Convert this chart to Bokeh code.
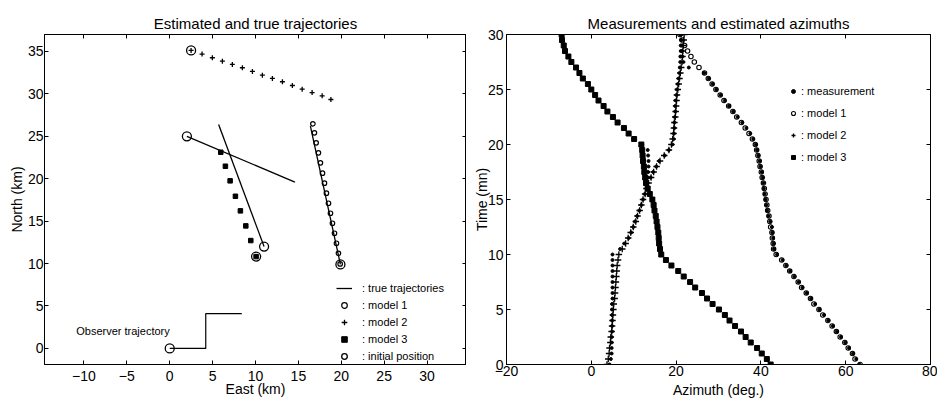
from bokeh.plotting import figure
from bokeh.layouts import row
from bokeh.models import Range1d, LinearAxis, FixedTicker, Legend, LegendItem, Label
from bokeh.embed import file_html
from bokeh.resources import INLINE

FONT = "Liberation Sans"

# ---------------- left panel data (km) ----------------
OBS_X = [0.0, 4.2, 4.2, 8.4]
OBS_Y = [0.0, 0.0, 4.1, 4.1]
OBS_LABEL = "Observer trajectory"
OBS_LABEL_X = -10.9
OBS_LABEL_Y = 2.0

TRUE_XS = [[19.9, 16.4], [11.0, 5.7], [2.0, 14.6]]
TRUE_YS = [[9.9, 26.2], [12.0, 26.4], [25.0, 19.6]]

M1_X = [19.87, 19.67, 19.44, 19.21, 18.97, 18.74, 18.51, 18.27, 18.04, 17.81, 17.57, 17.34, 17.07, 16.87, 16.69]
M1_Y = [9.96, 11.21, 12.39, 13.57, 14.75, 15.93, 17.11, 18.29, 19.47, 20.65, 21.87, 23.05, 24.23, 25.41, 26.47]

M2_X = [2.49, 3.77, 4.97, 6.14, 7.30, 8.47, 9.64, 10.80, 11.97, 13.14, 14.30, 15.44, 16.60, 17.77, 18.79]
M2_Y = [35.12, 34.69, 34.26, 33.86, 33.47, 33.08, 32.65, 32.21, 31.82, 31.43, 30.99, 30.55, 30.16, 29.77, 29.34]

M3_X = [10.07, 9.45, 8.87, 8.24, 7.66, 7.04, 6.49, 5.95]
M3_Y = [10.82, 12.71, 14.44, 16.21, 17.93, 19.75, 21.47, 23.12]

INIT_X = [0.0, 2.0, 11.0, 19.9, 2.49, 10.07]
INIT_Y = [0.0, 25.0, 12.0, 9.9, 35.12, 10.82]

LEFT_XTICKS = [-10, -5, 0, 5, 10, 15, 20, 25, 30]
LEFT_YTICKS = [0, 5, 10, 15, 20, 25, 30, 35]

# ---------------- right panel data (time in mn, azimuth in deg.) ----------------
TIME = [0.0, 0.5, 1.0, 1.5, 2.0, 2.5, 3.0, 3.5, 4.0, 4.5, 5.0, 5.5, 6.0, 6.5, 7.0, 7.5,
        8.0, 8.5, 9.0, 9.5, 10.0, 10.5, 11.0, 11.5, 12.0, 12.5, 13.0, 13.5, 14.0, 14.5,
        15.0, 15.5, 16.0, 16.5, 17.0, 17.5, 18.0, 18.5, 19.0, 19.5, 20.0, 20.5, 21.0,
        21.5, 22.0, 22.5, 23.0, 23.5, 24.0, 24.5, 25.0, 25.5, 26.0, 26.5, 27.0, 27.5,
        28.0, 28.5, 29.0, 29.5, 30.0]

MEAS_A = [63.2, 62.5, 61.7, 60.8, 59.9, 58.9, 57.9, 57.0, 55.9, 54.9, 53.8, 52.8, 51.8, 50.8,
          49.8, 48.9, 47.9, 46.9, 46.0, 45.1, 43.8, 43.1, 43.0, 42.9, 42.7, 42.6, 42.2, 41.8,
          41.5, 41.3, 41.1, 40.9, 40.7, 40.6, 40.4, 40.2, 39.9, 39.7, 39.4, 39.1, 38.8, 38.2,
          37.5, 36.6, 35.6, 34.5, 33.5, 32.5, 31.5, 30.5, 29.5, 28.6, 27.7, 26.6, 23.0, 21.7,
          21.5, 21.4, 21.3, 21.2, 21.0]
MEAS_B = [42.3, 41.5, 40.3, 39.0, 37.7, 36.5, 35.2, 34.0, 32.7, 31.4, 30.0, 28.7, 27.4, 26.0,
          24.6, 23.2, 21.9, 20.4, 19.0, 17.5, 16.6, 16.2, 16.1, 16.0, 15.8, 15.7, 15.5, 15.2,
          15.0, 14.8, 14.5, 13.6, 13.2, 13.0, 13.3, 13.4, 13.5, 13.5, 13.4, 13.3, 12.0, 10.2,
          8.9, 7.6, 6.3, 5.0, 3.9, 2.8, 1.8, 0.9, 0.1, -0.9, -1.9, -2.8, -3.7, -4.6, -5.5,
          -6.2, -6.6, -6.8, -7.0]
MEAS_C = [4.3, 4.6, 4.8, 4.8, 4.8, 4.8, 4.9, 4.9, 4.9, 4.9, 4.9, 4.9, 5.0, 5.0, 5.0, 5.0,
          5.0, 5.0, 5.0, 5.0, 5.0, 6.8, 7.8, 8.8, 9.4, 9.9, 10.3, 10.8, 11.3, 11.8, 12.2,
          12.6, 13.0, 13.3, 14.0, 14.6, 15.3, 16.0, 17.3, 18.3, 19.1, 19.4, 19.5, 19.6, 19.6,
          19.7, 19.8, 19.8, 19.9, 20.1, 20.2, 20.4, 20.6, 20.8, 20.9, 21.0, 21.0, 21.1, 21.1,
          21.2, 21.2]
MODEL1 = [63.4, 62.2, 61.6, 60.6, 59.8, 58.7, 57.8, 56.8, 55.8, 54.6, 53.7, 52.5, 51.7, 50.7,
          49.6, 48.8, 47.8, 46.8, 45.9, 44.9, 43.6, 43.0, 42.9, 42.7, 42.6, 42.3, 42.1, 41.9,
          41.6, 41.4, 41.2, 41.0, 40.8, 40.6, 40.3, 40.1, 39.8, 39.6, 39.3, 39.0, 38.7, 38.0,
          37.2, 36.3, 35.4, 34.3, 33.4, 32.4, 31.3, 30.4, 29.4, 28.5, 27.6, 26.7, 25.4, 24.3,
          23.5, 22.7, 22.0, 21.4, 20.9]
MODEL2 = [3.7, 4.0, 4.2, 4.3, 4.5, 4.6, 4.8, 4.9, 5.0, 5.1, 5.2, 5.3, 5.5, 5.6, 5.7, 5.8,
          5.9, 6.0, 6.1, 6.3, 6.5, 7.3, 8.1, 8.7, 9.3, 9.9, 10.5, 10.9, 11.4, 11.8, 12.2,
          12.7, 13.0, 13.5, 14.1, 14.7, 15.4, 16.2, 17.2, 18.3, 18.9, 19.2, 19.4, 19.5, 19.6,
          19.8, 19.9, 20.0, 20.1, 20.2, 20.4, 20.6, 20.8, 21.0, 21.2, 21.4, 21.5, 21.6, 21.7,
          21.8, 21.9]
MODEL3 = [42.3, 41.4, 40.2, 39.1, 37.6, 36.4, 35.3, 33.9, 32.6, 31.5, 30.1, 28.6, 27.3, 26.1,
          24.5, 23.3, 21.8, 20.5, 18.9, 17.6, 16.5, 16.2, 16.0, 15.9, 15.8, 15.6, 15.4, 15.2,
          14.9, 14.7, 14.4, 13.8, 13.3, 12.9, 12.7, 12.5, 12.4, 12.2, 12.1, 12.0, 11.8, 10.1,
          8.8, 7.7, 6.2, 5.1, 3.8, 2.9, 1.7, 0.9, 0.0, -0.8, -2.0, -2.8, -3.6, -4.7, -5.4,
          -6.2, -6.5, -6.9, -7.0]

RIGHT_XTICKS = [-20, 0, 20, 40, 60, 80]
RIGHT_YTICKS = [0, 5, 10, 15, 20, 25, 30]


def style_main_axis(ax, ticks, label, label_standoff, axis_label_standoff):
    ax.ticker = FixedTicker(ticks=ticks)
    ax.axis_label = label
    ax.axis_label_text_font = FONT
    ax.axis_label_text_font_size = "14px"
    ax.axis_label_text_font_style = "normal"
    ax.axis_label_text_color = "black"
    ax.axis_label_standoff = axis_label_standoff
    ax.major_label_text_font = FONT
    ax.major_label_text_font_size = "14px"
    ax.major_label_text_color = "black"
    ax.major_label_standoff = label_standoff
    ax.major_tick_in = 4
    ax.major_tick_out = 0
    ax.minor_tick_line_color = None
    ax.axis_line_color = "black"
    ax.major_tick_line_color = "black"


def add_box_axis(p, ticks, side):
    ax = LinearAxis(ticker=FixedTicker(ticks=ticks))
    ax.major_label_text_font_size = "0px"
    ax.major_label_text_color = None
    ax.major_label_standoff = 0
    ax.major_tick_in = 4
    ax.major_tick_out = 0
    ax.minor_tick_line_color = None
    ax.axis_line_color = "black"
    ax.major_tick_line_color = "black"
    p.add_layout(ax, side)


def style_title(p):
    p.title.text_font = FONT
    p.title.text_font_size = "15px"
    p.title.text_font_style = "normal"
    p.title.text_color = "black"
    p.title.align = "center"
    p.title.standoff = 6


def style_legend(lg, spacing, glyph_width, standoff):
    lg.label_text_font = FONT
    lg.label_text_font_size = "11px"
    lg.label_text_color = "black"
    lg.border_line_color = None
    lg.background_fill_alpha = 0
    lg.padding = 0
    lg.margin = 0
    lg.spacing = spacing
    lg.label_height = 14
    lg.glyph_height = 14
    lg.glyph_width = glyph_width
    lg.label_standoff = standoff


# ---------------- left figure ----------------
p1 = figure(width=466, height=400, x_range=Range1d(-14.6, 34.6), y_range=Range1d(-1.9, 37.0),
            title="Estimated and true trajectories", output_backend="svg", toolbar_location=None,
            min_border_left=44, min_border_right=0, min_border_top=34, min_border_bottom=36)
style_title(p1)
p1.grid.visible = False
p1.outline_line_color = "black"
style_main_axis(p1.xaxis[0], LEFT_XTICKS, "East (km)", 6, -3)
style_main_axis(p1.yaxis[0], LEFT_YTICKS, "North (km)", 1, 0)
add_box_axis(p1, LEFT_XTICKS, "above")
add_box_axis(p1, LEFT_YTICKS, "right")

p1.line(OBS_X, OBS_Y, line_color="black", line_width=1.2)
r_true = p1.multi_line(TRUE_XS, TRUE_YS, line_color="black", line_width=1.3)
r_m1 = p1.scatter(M1_X, M1_Y, marker="circle", size=4.5, fill_color=None, line_color="black", line_width=1.2)
r_m2 = p1.scatter(M2_X, M2_Y, marker="cross", size=5, line_color="black", line_width=1.3)
r_m3 = p1.scatter(M3_X, M3_Y, marker="square", size=4.5, fill_color="black", line_color="black")
r_init = p1.scatter(INIT_X, INIT_Y, marker="circle", size=9, fill_color=None, line_color="black", line_width=1.3)

p1.add_layout(Label(x=OBS_LABEL_X, y=OBS_LABEL_Y, text=OBS_LABEL, text_font=FONT,
                    text_font_size="11px", text_baseline="middle", text_color="black"))

leg1 = Legend(items=[
    LegendItem(label=": true trajectories", renderers=[r_true]),
    LegendItem(label=": model 1", renderers=[r_m1]),
    LegendItem(label=": model 2", renderers=[r_m2]),
    LegendItem(label=": model 3", renderers=[r_m3]),
    LegendItem(label=": initial position", renderers=[r_init]),
], location=(292, 1))
style_legend(leg1, 3, 16, 10)
p1.add_layout(leg1)

# ---------------- right figure ----------------
p2 = figure(width=471, height=400, x_range=Range1d(-20, 80), y_range=Range1d(0, 30),
            title="Measurements and estimated azimuths", output_backend="svg", toolbar_location=None,
            min_border_left=40, min_border_right=7, min_border_top=34, min_border_bottom=36)
style_title(p2)
p2.grid.visible = False
p2.outline_line_color = "black"
style_main_axis(p2.xaxis[0], RIGHT_XTICKS, "Azimuth (deg.)", 1, 3)
style_main_axis(p2.yaxis[0], RIGHT_YTICKS, "Time (mn)", 3, -5)
add_box_axis(p2, RIGHT_XTICKS, "above")
add_box_axis(p2, RIGHT_YTICKS, "right")

r_m3b = p2.scatter(MODEL3, TIME, marker="square", size=5, fill_color="black", line_color="black")
r_m2b = p2.scatter(MODEL2, TIME, marker="cross", size=6.5, line_color="black", line_width=1.3)
r_m1b = p2.scatter(MODEL1, TIME, marker="circle", size=4.5, fill_color=None, line_color="black", line_width=1.1)
r_meas = p2.scatter(MEAS_A + MEAS_B + MEAS_C, TIME + TIME + TIME, marker="circle", size=3,
                    fill_color="black", line_color="black")

leg2 = Legend(items=[
    LegendItem(label=": measurement", renderers=[r_meas]),
    LegendItem(label=": model 1", renderers=[r_m1b]),
    LegendItem(label=": model 2", renderers=[r_m2b]),
    LegendItem(label=": model 3", renderers=[r_m3b]),
], location=(282, 200))
style_legend(leg2, 8, 10, 3)
p2.add_layout(leg2)

layout = row(p1, p2)
open("out.html", "w").write(file_html(layout, INLINE))
